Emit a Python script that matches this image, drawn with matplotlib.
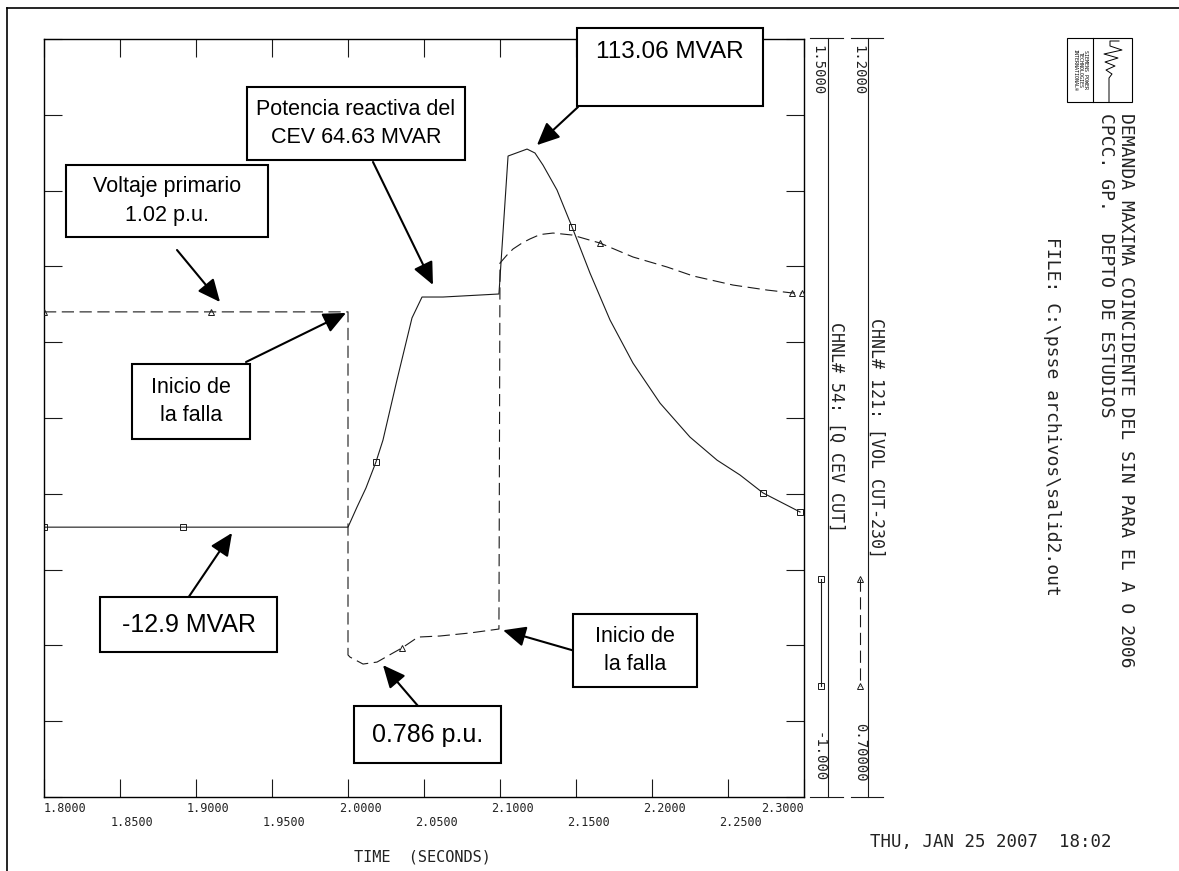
import matplotlib
matplotlib.use("Agg")
from matplotlib import pyplot as plt
from matplotlib.lines import Line2D
from matplotlib.patches import Rectangle
from matplotlib.transforms import ScaledTranslation
import numpy as np

W, H = 1179, 871

# CHNL 54: reactive power of the CEV (MVAR)
time_q = [1.8, 1.8914, 2.0, 2.0059, 2.0118, 2.0184, 2.0230, 2.0322, 2.0421,
          2.0487, 2.0625, 2.0993, 2.1053, 2.1178, 2.1230, 2.1283, 2.1375,
          2.1474, 2.1592, 2.1724, 2.1875, 2.2053, 2.2250, 2.2428, 2.2579,
          2.2730, 2.2974]
q_mvar = [-11.0, -11.0, -11.0, -4.4, 1.9, 10.5, 17.7, 37.5, 58.0,
          64.9, 64.9, 65.9, 111.4, 113.7, 112.4, 108.4, 100.2,
          88.0, 72.8, 57.3, 43.1, 29.9, 18.7, 11.1, 6.2,
          0.3, -6.0]
q_marks = [0, 1, 5, 17, 25, 26]

# CHNL 121: 230 kV voltage (p.u.)
time_v = [1.8, 1.91, 2.0, 2.0, 2.0013, 2.0099, 2.0191, 2.0296, 2.0355,
          2.0461, 2.0605, 2.0803, 2.0993, 2.1, 2.1046, 2.1086, 2.1145,
          2.1197, 2.1263, 2.1349, 2.1474, 2.1658, 2.1875, 2.2099, 2.2270,
          2.2533, 2.2757, 2.2921, 2.2987]
v_pu = [1.02, 1.02, 1.02, 0.7937, 0.7923, 0.7877, 0.7890, 0.7950, 0.7983,
        0.8055, 0.8062, 0.8082, 0.8108, 1.0522, 1.0575, 1.0615, 1.0654,
        1.0681, 1.0710, 1.0720, 1.0707, 1.0654, 1.0562, 1.0496, 1.0437,
        1.0377, 1.0344, 1.0325, 1.0325]
v_marks = [0, 1, 8, 21, 27, 28]

x_ticks = [1.80, 1.85, 1.90, 1.95, 2.00, 2.05, 2.10, 2.15, 2.20, 2.25, 2.30]
x_tick_labels = ["1.8000", "1.8500", "1.9000", "1.9500", "2.0000", "2.0500",
                 "2.1000", "2.1500", "2.2000", "2.2500", "2.3000"]
q_scale = [-1.0, 1.5]      # per 100 MVAR
q_scale_labels = ["-1.000", "1.5000"]
v_scale = [0.70, 1.20]
v_scale_labels = ["0.70000", "1.2000"]

MONO = "DejaVu Sans Mono"
SANS = "Liberation Sans"
LC = "#1a1a1a"


def fx(x):
    return x / W


def fy(y):
    return 1 - y / H


fig = plt.figure(figsize=(W / 100, H / 100), dpi=100)


def fig_line(xs, ys, **kw):
    kw.setdefault("color", LC)
    kw.setdefault("lw", 0.8)
    fig.add_artist(Line2D([fx(x) for x in xs], [fy(y) for y in ys],
                          transform=fig.transFigure, **kw))


def fig_text(x, y, s, **kw):
    kw.setdefault("family", MONO)
    kw.setdefault("color", "#222222")
    fig.text(fx(x), fy(y), s, **kw)


# outer frame
fig_line([7, 7], [8, 871], lw=1.2, color="k")
fig_line([7, 1179], [8, 8], lw=1.2, color="k")

# main axes
ax = fig.add_axes([fx(44), fy(797), 760 / W, 758 / H])
ax2 = ax.twinx()

ax.plot(time_q, np.array(q_mvar) / 100.0, color=LC, lw=0.8,
        marker="s", ms=4.5, mfc="none", mew=0.7, markevery=q_marks)
ax2.plot(time_v, v_pu, color=LC, lw=0.8, ls=(0, (11, 5)),
         marker="^", ms=4.5, mfc="none", mew=0.7, markevery=v_marks)

ax.set_xlim(x_ticks[0], x_ticks[-1])
ax.set_ylim(q_scale)
ax2.set_ylim(v_scale)
ax.set_xticks(x_ticks)
ax.set_yticks(np.linspace(q_scale[0], q_scale[1], 11))
ax.tick_params(direction="in", length=13, width=0.8, color=LC,
               top=True, right=True, labelbottom=False, labelleft=False)
ax2.set_yticks([])
for s in ax2.spines.values():
    s.set_visible(False)
for s in ax.spines.values():
    s.set_linewidth(1.0)
    s.set_color("k")

# staggered time labels
for i, (t, lab) in enumerate(zip(x_ticks, x_tick_labels)):
    dy = 5 if i % 2 == 0 else 19
    if i == 0:
        ha, dx = "left", 0
    elif i == len(x_ticks) - 1:
        ha, dx = "right", 0
    else:
        ha, dx = "left", -9
    ax.text(t, 0, lab, ha=ha, va="top", family=MONO, size=8.5, color="#222222",
            transform=ax.get_xaxis_transform()
            + ScaledTranslation(dx / 100, -dy / 100, fig.dpi_scale_trans))

fig_text(422, 857, "TIME  (SECONDS)", ha="center", va="center", size=11)
fig_text(870, 842, "THU, JAN 25 2007  18:02", ha="left", va="center", size=12.5)

# channel scale bars
for xl, xs in [(828, (810, 843)), (868, (851, 883))]:
    fig_line([xl, xl], [38, 797])
    fig_line(xs, [38, 38])
    fig_line(xs, [797, 797])
fig_text(817, 45, q_scale_labels[1], rotation=-90, ha="center", va="top", size=10)
fig_text(819, 782, q_scale_labels[0], rotation=-90, ha="center", va="bottom", size=10)
fig_text(858, 45, v_scale_labels[1], rotation=-90, ha="center", va="top", size=10)
fig_text(860, 782, v_scale_labels[0], rotation=-90, ha="center", va="bottom", size=10)

# channel legend glyphs
fig_line([821, 821], [579, 686], marker="s", ms=4.5, mfc="none", mew=0.7)
fig_line([860, 860], [579, 686], ls=(0, (11, 5)), marker="^", ms=4.5,
         mfc="none", mew=0.7)
fig_text(836, 322, "CHNL# 54: [Q CEV CUT]", rotation=-90, ha="center",
         va="top", size=12)
fig_text(876, 318, "CHNL# 121: [VOL CUT-230]", rotation=-90, ha="center",
         va="top", size=12)

# title block
fig_text(1126, 113, "DEMANDA MAXIMA COINCIDENTE DEL SIN PARA EL A O 2006",
         rotation=-90, ha="center", va="top", size=13)
fig_text(1106, 113, "CPCC. GP.  DEPTO DE ESTUDIOS",
         rotation=-90, ha="center", va="top", size=13)
fig_text(1052, 237, "FILE: C:\\psse archivos\\salid2.out",
         rotation=-90, ha="center", va="top", size=13)

# logo
fig.add_artist(Rectangle((fx(1067), fy(102)), 65 / W, 64 / H, fill=False,
                         ec="k", lw=0.8, transform=fig.transFigure))
fig_line([1093, 1093], [38, 102], color="k")
fig_text(1080, 70, "SIEMENS POWER\nTECHNOLOGIES\nINTERNATIONAL\u00ae",
         rotation=-90, ha="center", va="center", size=3.6, color="k",
         linespacing=1.0)
logo_x = [1119, 1110, 1110, 1122, 1104, 1118, 1105, 1115, 1106, 1112, 1109, 1109]
logo_y = [41, 41, 46, 50, 54, 58, 62, 66, 70, 74, 78, 102]
fig_line(logo_x, logo_y, lw=0.7, color="k")

# annotation boxes: (x0, y0, x1, y1) in pixels, text, font size
boxes = [
    ((66, 165, 268, 237), "Voltaje primario\n1.02 p.u.", 15.5),
    ((132, 364, 250, 439), "Inicio de\nla falla", 15.5),
    ((100, 597, 277, 652), "-12.9 MVAR", 18),
    ((247, 87, 465, 160), "Potencia reactiva del\nCEV 64.63 MVAR", 15.5),
    ((577, 28, 763, 106), "113.06 MVAR", 17.5),
    ((573, 614, 697, 687), "Inicio de\nla falla", 15.5),
    ((354, 706, 501, 763), "0.786 p.u.", 18),
]
for (x0, y0, x1, y1), s, fs in boxes:
    fig.add_artist(Rectangle((fx(x0), fy(y1)), (x1 - x0) / W, (y1 - y0) / H,
                             fc="white", ec="k", lw=1.5,
                             transform=fig.transFigure, zorder=5))
    ty = (y0 + y1) / 2 if "113" not in s else y0 + 24
    fig.text(fx((x0 + x1) / 2), fy(ty), s, ha="center", va="center",
             family=SANS, size=fs, linespacing=1.45, zorder=6)

# arrows: tip (data, axis), tail in pixels
arrows = [
    (ax2, (1.9158, 1.0265), (177, 250)),
    (ax2, (1.9987, 1.0193), (246, 362)),
    (ax, (1.9237, -0.129), (188, 598)),
    (ax, (2.0559, 0.689), (373, 162)),
    (ax, (2.1243, 1.150), (578, 107)),
    (ax2, (2.1020, 0.810), (575, 651)),
    (ax2, (2.0230, 0.787), (418, 706)),
]
for a, tip, (px, py) in arrows:
    a.annotate("", xy=tip, xycoords="data", xytext=(px, H - py),
               textcoords="figure pixels", annotation_clip=False,
               arrowprops=dict(arrowstyle="-|>,head_length=0.55,head_width=0.25",
                               mutation_scale=25, lw=1.5, color="k",
                               shrinkA=0, shrinkB=0))

fig.savefig("out.png", dpi=100)
